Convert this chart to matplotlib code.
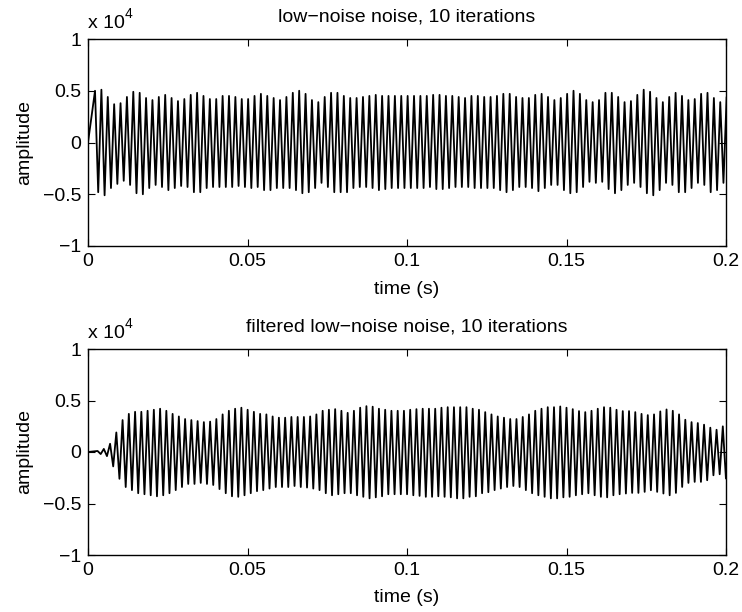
import matplotlib
matplotlib.use("Agg")
import matplotlib.pyplot as plt
import numpy as np

plt.rcParams['font.family'] = ['Liberation Sans', 'DejaVu Sans']

# ---- data (amplitudes in units of 1e4), per-cycle peak / trough values ----
top_title = "low\u2212noise noise, 10 iterations"
bot_title = "filtered low\u2212noise noise, 10 iterations"
xticks = [0, 0.05, 0.1, 0.15, 0.2]
xticklabels = ["0", "0.05", "0.1", "0.15", "0.2"]
yticks = [-1, -0.5, 0, 0.5, 1]
yticklabels = ["\u22121", "\u22120.5", "0", "0.5", "1"]

top_period = 0.002      # s per cycle
top_start = 0.0022      # time of first peak
top_peaks = [
    0.50, 0.51, 0.44, 0.37, 0.38, 0.44, 0.49, 0.48, 0.43, 0.41, 0.44, 0.46, 0.43, 0.40, 0.42,
    0.46, 0.48, 0.45, 0.42, 0.42, 0.45, 0.45, 0.44, 0.42, 0.42,
    0.45, 0.47, 0.45, 0.43, 0.41, 0.44, 0.48, 0.50, 0.47, 0.41, 0.39, 0.44, 0.48, 0.48, 0.45,
    0.43, 0.43, 0.44, 0.45, 0.46, 0.45, 0.45, 0.45, 0.45, 0.45, 0.45, 0.45,
    0.45, 0.46, 0.46, 0.45, 0.45, 0.44, 0.43, 0.45, 0.45, 0.44, 0.44, 0.45, 0.47, 0.47, 0.44,
    0.43, 0.43, 0.46, 0.47, 0.44, 0.41, 0.43, 0.47, 0.50, 0.47, 0.41, 0.39,
    0.41, 0.48, 0.48, 0.44, 0.39, 0.40, 0.46, 0.51, 0.49, 0.43, 0.39, 0.44, 0.48, 0.45, 0.41,
    0.42, 0.47, 0.48, 0.43, 0.39, 0.44,
]
top_troughs = [
    -0.48, -0.51, -0.44, -0.40, -0.37, -0.41, -0.49, -0.50, -0.44, -0.41, -0.43, -0.46, -0.44,
    -0.42, -0.43, -0.48, -0.48, -0.44, -0.43, -0.43, -0.43, -0.43, -0.42, -0.43, -0.44,
    -0.43, -0.46, -0.46, -0.44, -0.44, -0.44, -0.46, -0.49, -0.48, -0.44, -0.39, -0.43, -0.48,
    -0.48, -0.48, -0.44, -0.43, -0.43, -0.44, -0.46, -0.45, -0.44, -0.44, -0.44, -0.44, -0.44, -0.44,
    -0.43, -0.45, -0.45, -0.44, -0.43, -0.43, -0.43, -0.44, -0.44, -0.44, -0.44, -0.46, -0.48,
    -0.46, -0.43, -0.43, -0.44, -0.47, -0.44, -0.41, -0.41, -0.46, -0.49, -0.48, -0.43, -0.38, -0.39,
    -0.38, -0.45, -0.49, -0.46, -0.41, -0.39, -0.43, -0.49, -0.51, -0.46, -0.39, -0.41, -0.48,
    -0.48, -0.44, -0.39, -0.41, -0.48, -0.46, -0.39, -0.40,
]

bot_period = 0.00196
bot_start = 0.0030
bot_peaks = [
    0.01, 0.03, 0.08, 0.19, 0.31, 0.37, 0.39, 0.39, 0.40, 0.41, 0.42, 0.40, 0.37, 0.345, 0.32,
    0.31, 0.30, 0.29, 0.295, 0.32, 0.365, 0.40, 0.42, 0.43, 0.41, 0.39,
    0.37, 0.365, 0.345, 0.333, 0.333, 0.34, 0.34, 0.34, 0.345, 0.365, 0.40, 0.41, 0.416, 0.40,
    0.38, 0.40, 0.43, 0.445, 0.44, 0.42, 0.41, 0.40, 0.40, 0.40, 0.41, 0.416, 0.42, 0.42,
    0.42, 0.43, 0.435, 0.435, 0.435, 0.435, 0.42, 0.41, 0.387, 0.365, 0.345, 0.333, 0.32, 0.32,
    0.34, 0.365, 0.40, 0.42, 0.435, 0.435, 0.442, 0.43, 0.416, 0.397, 0.387, 0.40,
    0.42, 0.435, 0.43, 0.41, 0.397, 0.397, 0.387, 0.37, 0.358, 0.365, 0.394, 0.413, 0.40, 0.365,
    0.313, 0.29, 0.281, 0.265, 0.236, 0.216, 0.249, 0.265,
]
bot_troughs = [
    -0.02, -0.04, -0.14, -0.26, -0.34, -0.37, -0.40, -0.41, -0.42, -0.43, -0.42, -0.40, -0.37,
    -0.34, -0.31, -0.31, -0.30, -0.31, -0.32, -0.36, -0.40, -0.43, -0.435, -0.42, -0.40, -0.38,
    -0.37, -0.355, -0.34, -0.34, -0.34, -0.33, -0.34, -0.345, -0.355, -0.37, -0.40, -0.42, -0.41,
    -0.40, -0.40, -0.42, -0.435, -0.45, -0.44, -0.43, -0.41, -0.41, -0.41, -0.41, -0.42, -0.426,
    -0.435, -0.435,
    -0.43, -0.435, -0.44, -0.45, -0.45, -0.435, -0.43, -0.40, -0.39, -0.37, -0.355, -0.34, -0.33,
    -0.34, -0.37, -0.40, -0.42, -0.435, -0.45, -0.45, -0.44, -0.435, -0.42, -0.41, -0.40, -0.42,
    -0.435, -0.44, -0.42, -0.41, -0.403, -0.397, -0.397, -0.387, -0.371, -0.387, -0.403, -0.42,
    -0.397, -0.339, -0.30, -0.29, -0.29, -0.274, -0.226, -0.216, -0.258, -0.27,
]


def zigzag(peaks, troughs, start, period):
    n = min(len(peaks), len(troughs))
    t = [0.0]
    y = [0.0]
    for k in range(n):
        t.append(start + k * period)
        y.append(peaks[k] * 1e4)
        t.append(start + (k + 0.5) * period)
        y.append(troughs[k] * 1e4)
    return np.array(t), np.array(y)


W, H = 742, 612
fig = plt.figure(figsize=(W / 100, H / 100), dpi=100)

def px_axes(left, top, right, bottom):
    return fig.add_axes([left / W, 1 - bottom / H, (right - left) / W, (bottom - top) / H])

FS = 14

def style(ax, title, title_y, xlabel_y, exp_y):
    ax.set_xlim(0, 0.2)
    ax.set_ylim(-1e4, 1e4)
    ax.set_xticks(xticks)
    ax.set_xticklabels(xticklabels)
    ax.set_yticks([v * 1e4 for v in yticks])
    ax.set_yticklabels(yticklabels)
    ax.tick_params(direction='in', top=True, right=True, length=5, width=0.8,
                   labelsize=FS, pad=5)
    for s in ax.spines.values():
        s.set_linewidth(1.0)
    ax.set_ylabel("amplitude", fontsize=FS, labelpad=7)
    fig.text(407 / W, 1 - title_y / H, title, ha='center', va='center', fontsize=FS)
    fig.text(407 / W, 1 - xlabel_y / H, "time (s)", ha='center', va='center', fontsize=FS)
    fig.text(88 / W, 1 - exp_y / H, "x 10", ha='left', va='center', fontsize=FS)
    fig.text(125 / W, 1 - (exp_y - 9) / H, "4", ha='left', va='center', fontsize=FS - 4)

ax1 = px_axes(88, 39, 726, 246)
t1, y1 = zigzag(top_peaks, top_troughs, top_start, top_period)
ax1.plot(t1, y1, color='black', lw=1.3)
style(ax1, top_title, 17, 290, 23)

ax2 = px_axes(88, 349, 726, 555)
t2, y2 = zigzag(bot_peaks, bot_troughs, bot_start, bot_period)
ax2.plot(t2, y2, color='black', lw=1.3)
style(ax2, bot_title, 327, 597, 333)

fig.savefig("out.png", dpi=100)
